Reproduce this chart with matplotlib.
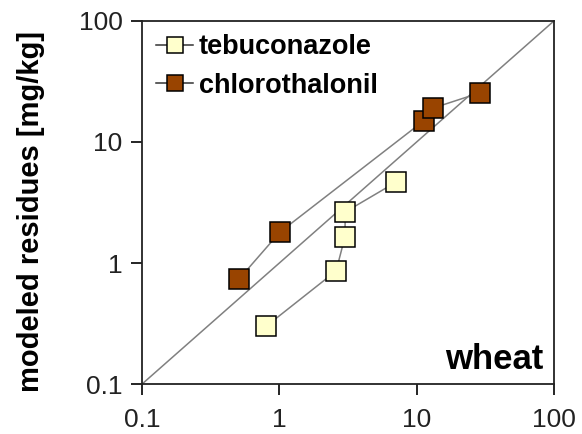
import numpy as np
import matplotlib.pyplot as plt

plt.rcParams['font.family'] = ['Liberation Sans', 'DejaVu Sans']

# measured vs modeled residues in wheat [mg/kg]
tebu_measured = [0.80, 2.59, 3.00, 3.02, 7.08]
tebu_modeled = [0.30, 0.86, 1.64, 2.64, 4.66]
chloro_measured = [0.51, 1.01, 11.3, 13.1, 29.0]
chloro_modeled = [0.74, 1.80, 15.0, 19.0, 25.5]

fig = plt.figure(figsize=(5.82, 4.34), dpi=100)
ax = fig.add_axes([0.244, 0.115, 0.708, 0.837])

# 1:1 line
ax.plot([0.1, 100], [0.1, 100], color='#808080', lw=1.1, zorder=1)

ax.plot(tebu_measured, tebu_modeled, color='#808080', lw=1.1, marker='s', ms=14,
        mfc='#FFFFCC', mec='black', mew=1.1, label='tebuconazole', zorder=3)
ax.plot(chloro_measured, chloro_modeled, color='#808080', lw=1.1, marker='s', ms=14,
        mfc='#994400', mec='black', mew=1.1, label='chlorothalonil', zorder=3)

ax.set_xscale('log')
ax.set_yscale('log')
ax.set_xlim(0.1, 100)
ax.set_ylim(0.1, 100)
ticks = [0.1, 1, 10, 100]
ax.set_xticks(ticks)
ax.set_yticks(ticks)
ax.set_xticklabels(['0.1', '1', '10', '100'])
ax.set_yticklabels(['0.1', '1', '10', '100'])
ax.minorticks_off()
ax.tick_params(direction='out', length=8, width=1.2, labelsize=19,
               colors='black', labelcolor='#222222')
ax.tick_params(axis='x', pad=9)
ax.tick_params(axis='y', pad=6)
for s in ax.spines.values():
    s.set_linewidth(1.3)
    s.set_color('#222222')

ax.set_ylabel('modeled residues [mg/kg]', fontsize=21, fontweight='bold')
ax.yaxis.set_label_coords(-0.235, 0.474)

leg = ax.legend(loc='upper left', frameon=False, handlelength=1.4,
                handletextpad=0.2, labelspacing=0.45, borderaxespad=0.1,
                markerscale=0.82, prop={'weight': 'bold', 'size': 19.5})
for ln in leg.get_lines():
    ln.set_color('#333333')

ax.text(0.975, 0.041, 'wheat', transform=ax.transAxes, ha='right', va='baseline',
        fontsize=25, fontweight='bold')

fig.savefig('out.png', dpi=100)
